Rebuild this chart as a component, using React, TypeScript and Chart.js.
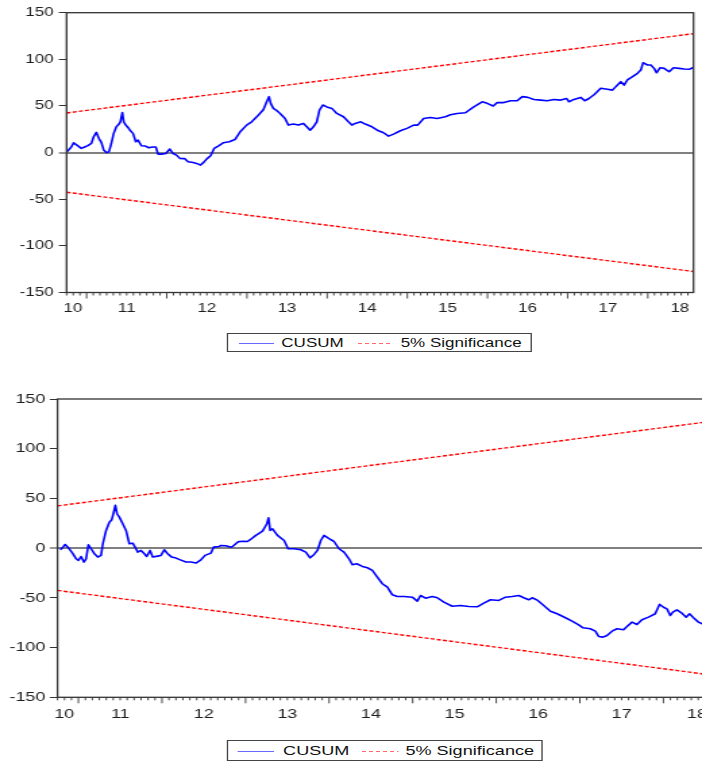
import React, { useEffect, useRef } from 'react';
import { Chart, registerables } from 'chart.js';

Chart.register(...registerables);

// ---------- data ----------
const X_MIN = 2010.75;
const X_MAX = 2018.57;
const xLabelYears = [2010.83, 2011.5, 2012.5, 2013.5, 2014.5, 2015.5, 2016.5, 2017.5, 2018.4];
const xLabels = ['10', '11', '12', '13', '14', '15', '16', '17', '18'];
const yTickStep = 50;
const Y_MIN = -150;
const Y_MAX = 150;

const boundYears = [2010.75, 2018.57];
const upperBound = [42.5, 127.5];
const lowerBound = [-42.5, -127.5];

const cusum1Years = [
  2010.746, 2010.809, 2010.838, 2010.879, 2010.934, 2010.975, 2011.016, 2011.059, 2011.088, 2011.121,
  2011.154, 2011.184, 2011.213, 2011.246, 2011.279, 2011.309, 2011.338, 2011.371, 2011.404, 2011.421,
  2011.446, 2011.463, 2011.488, 2011.516, 2011.546, 2011.579, 2011.613, 2011.641, 2011.684, 2011.734,
  2011.775, 2011.821, 2011.863, 2011.891, 2011.934, 2011.988, 2012.038, 2012.079, 2012.121, 2012.163,
  2012.225, 2012.266, 2012.329, 2012.371, 2012.421, 2012.463, 2012.496, 2012.546, 2012.591, 2012.641,
  2012.704, 2012.779, 2012.85, 2012.913, 2012.996, 2013.059, 2013.141, 2013.204, 2013.246, 2013.275,
  2013.296, 2013.329, 2013.363, 2013.413, 2013.475, 2013.516, 2013.579, 2013.641, 2013.704, 2013.746,
  2013.788, 2013.829, 2013.871, 2013.904, 2013.946, 2013.996, 2014.059, 2014.121, 2014.204, 2014.266,
  2014.309, 2014.35, 2014.421, 2014.475, 2014.559, 2014.641, 2014.704, 2014.766, 2014.829, 2014.913,
  2014.996, 2015.079, 2015.129, 2015.204, 2015.288, 2015.371, 2015.475, 2015.538, 2015.621, 2015.725,
  2015.829, 2015.934, 2015.996, 2016.071, 2016.121, 2016.204, 2016.288, 2016.371, 2016.434, 2016.504,
  2016.579, 2016.663, 2016.746, 2016.829, 2016.913, 2016.988, 2017.016, 2017.079, 2017.163, 2017.213,
  2017.266, 2017.329, 2017.413, 2017.496, 2017.559, 2017.6, 2017.663, 2017.704, 2017.746, 2017.809,
  2017.871, 2017.913, 2017.941, 2017.996, 2018.038, 2018.079, 2018.109, 2018.154, 2018.204, 2018.266,
  2018.321, 2018.391, 2018.454, 2018.516, 2018.559, 2018.575,
];
const cusum1Values = [
  0, 6, 10.5, 8, 4.5, 6, 7.5, 9.8, 17, 21.7,
  15, 11, 2.7, 0, 1, 10, 20.6, 27.7, 30.6, 33,
  43, 33, 29.5, 27, 23.4, 20.6, 11.6, 13.4, 7.3, 7,
  5.2, 6, 6, -1.6, -1.6, -1, 3.8, -1, -2.7, -6.2,
  -6.5, -9.8, -10.7, -11.6, -13.4, -10.2, -7, -3.4, 4.5, 7,
  10.5, 11.6, 14, 22, 29.5, 33, 40, 46, 54.5, 60,
  52.8, 47.4, 45.6, 42, 36.6, 29.5, 30.6, 29.5, 31.3, 27.7,
  24, 27.7, 33, 45.6, 51, 49, 47.4, 42, 38.4, 33,
  29.5, 31.3, 33, 30.6, 27.7, 23.4, 21.3, 17.7, 19.8, 23.4,
  26, 29.5, 29.5, 36.6, 37.7, 36.6, 38.4, 40.5, 42, 42.7,
  49, 54.5, 52.8, 50, 53.6, 53.6, 55.6, 55.6, 60, 59.2,
  57, 56.3, 55.6, 57, 56.3, 58, 54.5, 57, 59.2, 55.6,
  58, 62, 69, 68, 67, 70.7, 76, 72.4, 78, 81.4,
  85, 88.5, 96.4, 93.9, 93.9, 90.3, 85.6, 91, 90.3, 86.7,
  91, 90.3, 89.6, 89.3, 91, 93.9,
];

const cusum2Years = [
  2010.785, 2010.814, 2010.841, 2010.873, 2010.904, 2010.933, 2010.973, 2011.0, 2011.032, 2011.065,
  2011.092, 2011.119, 2011.152, 2011.191, 2011.232, 2011.271, 2011.292, 2011.331, 2011.37, 2011.399,
  2011.418, 2011.442, 2011.462, 2011.49, 2011.53, 2011.57, 2011.609, 2011.65, 2011.689, 2011.71,
  2011.749, 2011.789, 2011.817, 2011.857, 2011.889, 2011.949, 2011.988, 2012.027, 2012.068, 2012.116,
  2012.167, 2012.227, 2012.287, 2012.346, 2012.406, 2012.466, 2012.515, 2012.585, 2012.618, 2012.685,
  2012.705, 2012.765, 2012.824, 2012.845, 2012.904, 2012.924, 2012.983, 2013.024, 2013.055, 2013.123,
  2013.203, 2013.255, 2013.275, 2013.294, 2013.323, 2013.382, 2013.461, 2013.509, 2013.581, 2013.661,
  2013.72, 2013.772, 2013.82, 2013.86, 2013.9, 2013.939, 2013.999, 2014.059, 2014.118, 2014.178,
  2014.238, 2014.278, 2014.33, 2014.398, 2014.458, 2014.517, 2014.577, 2014.637, 2014.697, 2014.756,
  2014.816, 2014.895, 2014.995, 2015.055, 2015.094, 2015.154, 2015.234, 2015.294, 2015.373, 2015.473,
  2015.572, 2015.671, 2015.772, 2015.851, 2015.931, 2016.03, 2016.11, 2016.19, 2016.269, 2016.329,
  2016.388, 2016.429, 2016.496, 2016.568, 2016.648, 2016.728, 2016.827, 2016.907, 2016.986, 2017.038,
  2017.125, 2017.185, 2017.225, 2017.277, 2017.325, 2017.385, 2017.444, 2017.523, 2017.564, 2017.624,
  2017.683, 2017.743, 2017.822, 2017.902, 2017.953, 2018.001, 2018.042, 2018.081, 2018.113, 2018.161,
  2018.221, 2018.272, 2018.312, 2018.36, 2018.419, 2018.463, 2018.52, 2018.57,
];
const cusum2Values = [
  -1.6, 1, 3.7, 1, -2.3, -5.6, -10.7, -12.4, -8.4, -14,
  -10.7, 3.4, -0.6, -5.6, -9, -7.3, 4.4, 17.8, 26, 28.6,
  34.6, 43, 34.6, 31.2, 24.5, 17.8, 4.4, 5, -0.6, -4,
  -2.3, -5.6, -8.4, -2.3, -9, -8, -7.3, -1.6, -5.6, -9,
  -10, -12, -14, -14, -15, -11.7, -7.3, -5, 1, 1.7,
  2.7, 2.4, 1, 1.7, 6, 6.7, 7, 6.7, 8.5, 12.8,
  17.1, 24.5, 30.6, 17.8, 19.5, 12.8, 7.7, -0.6, -0.6, -1.6,
  -4, -9.7, -6.3, -2.3, 7.7, 12.8, 9.5, 6.7, -0.6, -4,
  -10.7, -16.7, -15.7, -18.4, -19.7, -22.4, -29.2, -35.8, -39.2, -46.9,
  -48.6, -48.6, -49.3, -53.3, -47.6, -50.3, -48.6, -49.9, -54.3, -58.4,
  -57.6, -58.7, -59, -55.3, -51.9, -52.6, -49.3, -48.6, -47.6, -49.9,
  -51.9, -49.9, -52.6, -57.6, -63.4, -66, -70, -73.4, -77.1, -80.1,
  -81.1, -83.5, -88.8, -89.5, -87.8, -83.5, -81.1, -82.1, -78.8, -74.4,
  -76.8, -72, -69.4, -66, -56.6, -59.4, -61, -67.7, -64.4, -62,
  -65.4, -69.4, -66, -70, -74.4, -76, -73, -72,
];

const legendLabels = ['CUSUM', '5% Significance'];

// ---------- styling / geometry ----------
const FONT = '"Liberation Sans", Arial, Helvetica, sans-serif';
const STRETCH = 1.35;
const BLUE = '#0000ff';
const RED = '#ff0000';
const LEGEND_BLUE = '#6a6aff';
const LEGEND_RED = '#ff6a6a';

type Geom = {
  w: number; h: number; left: number; padTop: number; padRight: number; xAxisH: number;
  font: number; yTickLen: number; yPad: number; xPad: number; major: number; minor: number;
};

const TOP: Geom = { w: 520, h: 320, left: 49.3, padTop: 12.7, padRight: 6.3, xAxisH: 27.5, font: 12.5, yTickLen: 5.7, yPad: 4, xPad: 9, major: 6, minor: 3 };
const BOTTOM: Geom = { w: 541, h: 345, left: 42.6, padTop: 19, padRight: 14.3, xAxisH: 27.7, font: 13.3, yTickLen: 5.7, yPad: 3.3, xPad: 9.5, major: 6, minor: 3 };

const frameTicksPlugin = {
  id: 'frameTicks',
  afterDatasetsDraw(chart: any, _args: any, opts: any) {
    const { ctx, chartArea: a } = chart;
    const x = chart.scales.x;
    ctx.save();
    ctx.strokeStyle = '#333';
    ctx.lineWidth = 0.9;
    const m0 = Math.ceil(x.min * 12 - 1e-6);
    const m1 = Math.floor(x.max * 12 + 1e-6);
    for (let m = m0; m <= m1; m++) {
      const px = x.getPixelForValue(m / 12);
      const len = m % 12 === 0 ? opts.major : opts.minor;
      ctx.beginPath();
      ctx.moveTo(px, a.bottom);
      ctx.lineTo(px, a.bottom + len);
      ctx.stroke();
    }
    ctx.lineWidth = 1.3;
    ctx.strokeRect(a.left, a.top, a.right - a.left, a.bottom - a.top);
    ctx.restore();
  },
};

function makeConfig(years: number[], values: number[], g: Geom): any {
  return {
    type: 'line',
    data: {
      datasets: [
        {
          label: legendLabels[0],
          data: years.map((x, i) => ({ x, y: values[i] })),
          borderColor: BLUE,
          borderWidth: 1.6,
          borderJoinStyle: 'round',
          pointRadius: 0,
          tension: 0,
        },
        {
          label: legendLabels[1],
          data: boundYears.map((x, i) => ({ x, y: upperBound[i] })),
          borderColor: RED,
          borderWidth: 1.4,
          borderDash: [3, 1.6],
          pointRadius: 0,
        },
        {
          label: legendLabels[1] + ' (lower)',
          data: boundYears.map((x, i) => ({ x, y: lowerBound[i] })),
          borderColor: RED,
          borderWidth: 1.4,
          borderDash: [3, 1.6],
          pointRadius: 0,
        },
      ],
    },
    options: {
      responsive: false,
      animation: false,
      events: [],
      layout: { padding: { left: 0, top: g.padTop, right: g.padRight, bottom: 0 } },
      plugins: {
        legend: { display: false },
        tooltip: { enabled: false },
        frameTicks: { major: g.major, minor: g.minor },
      },
      scales: {
        x: {
          type: 'linear',
          min: X_MIN,
          max: X_MAX,
          afterBuildTicks: (scale: any) => {
            scale.ticks = xLabelYears.map((v) => ({ value: v }));
          },
          afterFit: (scale: any) => {
            scale.height = g.xAxisH;
            scale.paddingLeft = 0;
            scale.paddingRight = 0;
          },
          ticks: {
            autoSkip: false,
            maxRotation: 0,
            padding: g.xPad,
            color: '#1e1e1e',
            font: { family: FONT, size: g.font },
            callback: (_v: any, i: number) => xLabels[i],
          },
          grid: { display: false, drawTicks: false },
          border: { display: false },
        },
        y: {
          type: 'linear',
          min: Y_MIN,
          max: Y_MAX,
          afterFit: (scale: any) => {
            scale.width = g.left;
          },
          ticks: {
            stepSize: yTickStep,
            padding: g.yPad,
            color: '#1e1e1e',
            font: { family: FONT, size: g.font },
          },
          grid: {
            drawOnChartArea: true,
            drawTicks: true,
            tickLength: g.yTickLen,
            tickColor: '#333',
            tickWidth: 1,
            color: (c: any) => (c.tick && c.tick.value === 0 ? '#808080' : 'rgba(0,0,0,0)'),
            lineWidth: (c: any) => (c.tick && c.tick.value === 0 ? 2 : 1),
          },
          border: { display: false },
        },
      },
    },
    plugins: [frameTicksPlugin],
  };
}

function CusumCanvas({ years, values, g }: { years: number[]; values: number[]; g: Geom }) {
  const ref = useRef<HTMLCanvasElement | null>(null);
  useEffect(() => {
    if (!ref.current) return;
    const chart = new Chart(ref.current, makeConfig(years, values, g));
    return () => chart.destroy();
  }, []);
  return (
    <canvas
      ref={ref}
      width={g.w}
      height={g.h}
      style={{ position: 'absolute', left: 0, top: 0, width: g.w, height: g.h, display: 'block' }}
    />
  );
}

type LegendGeom = {
  left: number; top: number; width: number; height: number; font: number; cy: number;
  l1: number; l1w: number; t1: number; l2: number; l2w: number; t2: number;
};

const TOP_LEGEND: LegendGeom = { left: 168.1, top: 332.7, width: 225.8, height: 19.5, font: 12.6, cy: 9.6, l1: 7.7, l1w: 26.2, t1: 39.3, l2: 95.6, l2w: 25.7, t2: 127.7 };
const BOTTOM_LEGEND: LegendGeom = { left: 168, top: 360, width: 234.4, height: 21, font: 13.4, cy: 10.3, l1: 7.3, l1w: 26.7, t1: 40.7, l2: 98.7, l2w: 27.1, t2: 131.3 };

function Legend({ lg }: { lg: LegendGeom }) {
  const text = (left: number, s: string) => (
    <span
      style={{
        position: 'absolute', left, top: lg.cy, transform: 'translateY(-50%)',
        fontFamily: FONT, fontSize: lg.font, lineHeight: 1, color: '#111', whiteSpace: 'nowrap',
      }}
    >
      {s}
    </span>
  );
  return (
    <div
      style={{
        position: 'absolute', left: lg.left, top: lg.top, width: lg.width, height: lg.height,
        boxSizing: 'border-box', border: '1px solid #444', background: '#fff',
      }}
    >
      <div style={{ position: 'absolute', left: lg.l1, top: lg.cy - 0.6, width: lg.l1w, height: 1.2, background: LEGEND_BLUE }} />
      {text(lg.t1, legendLabels[0])}
      <div
        style={{
          position: 'absolute', left: lg.l2, top: lg.cy - 0.6, width: lg.l2w, height: 1.2,
          background: `repeating-linear-gradient(to right, ${LEGEND_RED} 0px, ${LEGEND_RED} 3px, transparent 3px, transparent 5.2px)`,
        }}
      />
      {text(lg.t2, legendLabels[1])}
    </div>
  );
}

function Panel({ top, g, lg, years, values }: { top: number; g: Geom; lg: LegendGeom; years: number[]; values: number[] }) {
  return (
    <div
      style={{
        position: 'absolute', left: 0, top, width: g.w, height: lg.top + lg.height + 2,
        transform: `scaleX(${STRETCH})`, transformOrigin: '0 0',
      }}
    >
      <CusumCanvas years={years} values={values} g={g} />
      <Legend lg={lg} />
    </div>
  );
}

export default function App() {
  useEffect(() => {
    document.body.style.margin = '0';
    document.body.style.overflow = 'hidden';
  }, []);
  return (
    <div style={{ position: 'fixed', left: 0, top: 0, width: 702, height: 761, overflow: 'hidden', background: '#fff' }}>
      <Panel top={0} g={TOP} lg={TOP_LEGEND} years={cusum1Years} values={cusum1Values} />
      <Panel top={380} g={BOTTOM} lg={BOTTOM_LEGEND} years={cusum2Years} values={cusum2Values} />
    </div>
  );
}
